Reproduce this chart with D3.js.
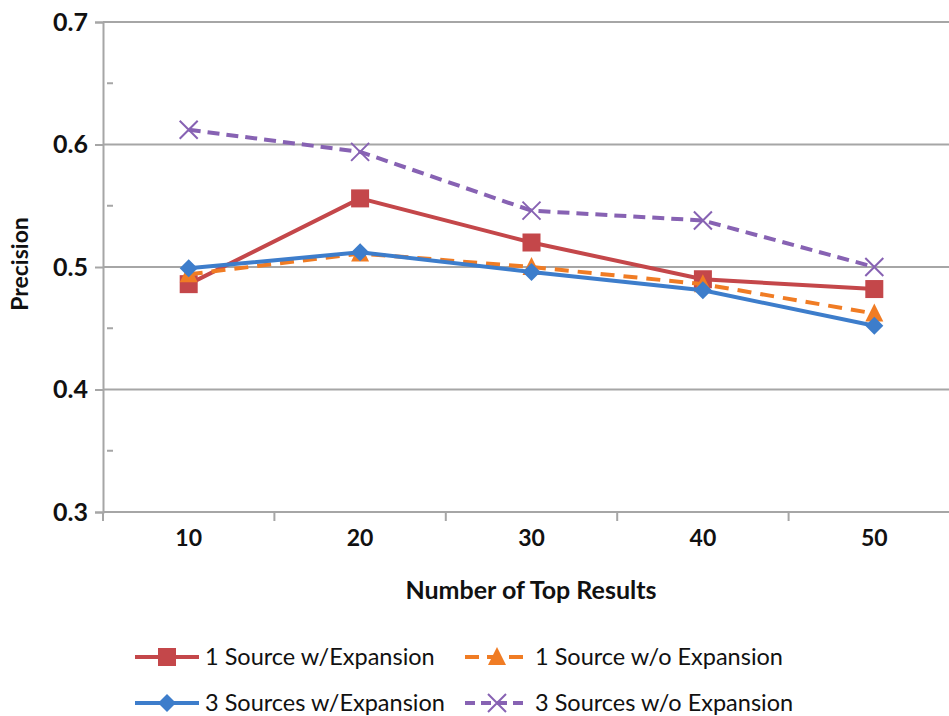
<!DOCTYPE html>
<html><head><meta charset="utf-8">
<script src="https://cdn.jsdelivr.net/npm/d3@7"></script>
<style>body{margin:0;background:#fff}svg{display:block}text{font-family:Lato,"Open Sans",sans-serif}</style>
</head><body>
<svg id="c" width="949" height="716"></svg>
<script>
const categories = ["10","20","30","40","50"];
const yTicks = [0.3,0.4,0.5,0.6,0.7];
const s1w = [0.486,0.556,0.520,0.490,0.482];
const s1wo = [0.494,0.511,0.500,0.486,0.462];
const s3w = [0.499,0.512,0.496,0.481,0.452];
const s3wo = [0.612,0.594,0.546,0.538,0.500];
const seriesNames = ["1 Source w/Expansion","1 Source w/o Expansion","3 Sources w/Expansion","3 Sources w/o Expansion"];

const series = [
 {name:seriesNames[0], values:s1w, color:"#C4474A", dash:null, marker:"square"},
 {name:seriesNames[1], values:s1wo, color:"#F07C24", dash:"14,9", marker:"triangle"},
 {name:seriesNames[2], values:s3w, color:"#3D7DCB", dash:null, marker:"diamond"},
 {name:seriesNames[3], values:s3wo, color:"#8762B3", dash:"12,7", marker:"x"}
];

const svg = d3.select("#c");
const L=103, R=960, T=22, B=512;
const x = d3.scaleBand().domain(categories).range([L,R]).padding(0);
const y = d3.scaleLinear().domain([0.3,0.7]).range([B,T]);
const cx = c => x(c)+x.bandwidth()/2;

svg.append("g").selectAll("line").data(yTicks.slice(1)).join("line")
 .attr("x1",L).attr("x2",949).attr("y1",d=>y(d)).attr("y2",d=>y(d))
 .attr("stroke","#A6A6A6").attr("stroke-width",2);

const ya = svg.append("g").attr("transform",`translate(${L},0)`)
 .call(d3.axisLeft(y).tickValues(yTicks).tickFormat(d3.format(".1f")).tickSize(8).tickPadding(7));
ya.select(".domain").attr("stroke","#A6A6A6").attr("stroke-width",2);
ya.selectAll(".tick line").attr("stroke","#A6A6A6").attr("stroke-width",2);
ya.selectAll("text").attr("font-size",25).attr("font-weight","bold").attr("fill","#111");
svg.append("g").selectAll("line").data([0.35,0.45,0.55,0.65]).join("line")
 .attr("x1",L+4).attr("x2",L+10).attr("y1",d=>y(d)).attr("y2",d=>y(d))
 .attr("stroke","#A6A6A6").attr("stroke-width",2);

const xa = svg.append("g").attr("transform",`translate(0,${B})`)
 .call(d3.axisBottom(x).tickSize(0).tickPadding(18));
xa.select(".domain").remove();
xa.selectAll("text").attr("font-size",23).attr("font-weight","bold").attr("fill","#111");
svg.append("line").attr("x1",L).attr("x2",949).attr("y1",B).attr("y2",B)
 .attr("stroke","#A6A6A6").attr("stroke-width",2);
const bounds = categories.map(c=>x(c)).concat([x(categories[categories.length-1])+x.step()]);
svg.append("g").selectAll("line").data(bounds).join("line")
 .attr("x1",d=>d).attr("x2",d=>d).attr("y1",B).attr("y2",B+9)
 .attr("stroke","#A6A6A6").attr("stroke-width",2);

svg.append("text").attr("x",531).attr("y",599).attr("text-anchor","middle")
 .attr("font-size",25).attr("font-weight","bold").attr("fill","#111").text("Number of Top Results");
svg.append("text").attr("transform",`translate(28,264) rotate(-90)`).attr("text-anchor","middle")
 .attr("font-size",23).attr("font-weight","bold").attr("fill","#111").text("Precision");

function drawMarker(g, type, px, py, color){
 if(type==="square") g.append("rect").attr("x",px-9).attr("y",py-9).attr("width",18).attr("height",18).attr("fill",color);
 else if(type==="diamond") g.append("path").attr("d",`M${px},${py-9}L${px+9},${py}L${px},${py+9}L${px-9},${py}Z`).attr("fill",color);
 else if(type==="triangle") g.append("path").attr("d",`M${px},${py-10}L${px+9},${py+8}L${px-9},${py+8}Z`).attr("fill",color);
 else if(type==="x") g.append("path").attr("d",`M${px-9},${py-9}L${px+9},${py+9}M${px+9},${py-9}L${px-9},${py+9}`).attr("stroke",color).attr("stroke-width",2).attr("fill","none");
}

const line = d3.line().x((d,i)=>cx(categories[i])).y(d=>y(d));
[3,0,1,2].forEach(k=>{
 const s = series[k];
 const g = svg.append("g");
 g.append("path").datum(s.values).attr("d",line).attr("fill","none")
  .attr("stroke",s.color).attr("stroke-width",4).attr("stroke-dasharray",s.dash);
 s.values.forEach((v,i)=>drawMarker(g,s.marker,cx(categories[i]),y(v),s.color));
});

const lpos = [[135,657],[465,657],[135,703],[465,703]];
series.forEach((s,k)=>{
 const [lx,ly] = lpos[k];
 const g = svg.append("g");
 g.append("line").attr("x1",lx).attr("x2",lx+64).attr("y1",ly).attr("y2",ly)
  .attr("stroke",s.color).attr("stroke-width",4).attr("stroke-dasharray",s.dash? (k===1?"14,8":"10,6"):null);
 drawMarker(g,s.marker,lx+32,ly,s.color);
 g.append("text").attr("x",lx+70).attr("y",ly+8).attr("font-size",23.5).attr("fill","#111").text(s.name);
});
</script>
</body></html>
